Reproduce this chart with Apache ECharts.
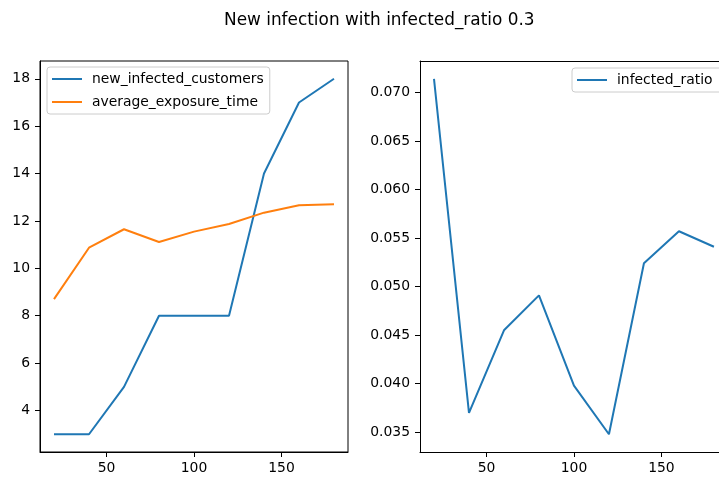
<!DOCTYPE html>
<html>
<head>
<meta charset="utf-8">
<title>New infection with infected_ratio 0.3</title>
<script src="https://cdn.jsdelivr.net/npm/echarts@6/dist/echarts.min.js"></script>
<style>
  html, body { margin: 0; padding: 0; background: #fff; }
  #chart { width: 719px; height: 478px; }
</style>
</head>
<body>
<div id="chart"></div>
<script>
// Simulation steps on the x axis
const steps = [20, 40, 60, 80, 100, 120, 140, 160, 180];
// Left panel series
const newInfectedCustomers = [3, 3, 5, 8, 8, 8, 14, 17, 18];
const averageExposureTime = [8.70, 10.87, 11.65, 11.11, 11.55, 11.87, 12.35, 12.66, 12.70];
// Right panel series
const infectedRatio = [0.0714, 0.0370, 0.0455, 0.0491, 0.0398, 0.0348, 0.0524, 0.0557, 0.0541];
// Tick labels
const xTicks = [50, 100, 150];
const leftYTicks = [4, 6, 8, 10, 12, 14, 16, 18];
const rightYTicks = [0.035, 0.040, 0.045, 0.050, 0.055, 0.060, 0.065, 0.070];

const FONT = 'DejaVu Sans';
const BLUE = '#1f77b4';
const ORANGE = '#ff7f0e';

const pairs = (ys) => steps.map((x, i) => [x, ys[i]]);

function xAxisFor(gridIndex, max) {
  return {
    type: 'value', gridIndex, min: 12, max,
    axisLine: { show: true, lineStyle: { color: '#000', width: 1 } },
    axisTick: { show: true, customValues: xTicks, length: 5, lineStyle: { color: '#000', width: 1 } },
    axisLabel: { customValues: xTicks, margin: 9, color: '#000', fontSize: 13.9, fontFamily: FONT },
    splitLine: { show: false }
  };
}

// Plain frame edge (top of the right panel, which runs off the page)
function frameEdge(gridIndex, max) {
  return {
    type: 'value', gridIndex, min: 12, max, position: 'top',
    axisLine: { show: true, lineStyle: { color: '#000', width: 1 } },
    axisTick: { show: false }, axisLabel: { show: false }, splitLine: { show: false }
  };
}

function yAxisFor(gridIndex, min, max, ticks, fmt) {
  return {
    type: 'value', gridIndex, min, max,
    axisLine: { show: true, lineStyle: { color: '#000', width: 1 } },
    axisTick: { show: true, customValues: ticks, length: 5, lineStyle: { color: '#000', width: 1 } },
    axisLabel: { customValues: ticks, margin: 10, color: '#000', fontSize: 13.9, fontFamily: FONT, formatter: fmt },
    splitLine: { show: false }
  };
}

const legendBase = {
  orient: 'vertical',
  icon: 'rect',
  itemWidth: 30,
  itemHeight: 2,
  itemGap: 9,
  padding: [5, 6, 5, 5],
  borderColor: '#cccccc',
  borderWidth: 1,
  borderRadius: 3,
  backgroundColor: 'rgba(255,255,255,0.8)',
  textStyle: { fontSize: 13.9, fontFamily: FONT, color: '#000', padding: [0, 0, 0, 5] }
};

const lineSeries = (name, data, color, idx) => ({
  name, type: 'line', data,
  xAxisIndex: idx, yAxisIndex: idx,
  symbol: 'none',
  lineStyle: { color, width: 2 },
  itemStyle: { color },
  emphasis: { disabled: true }
});

const chart = echarts.init(document.getElementById('chart'), null, { renderer: 'canvas' });
chart.setOption({
  animation: false,
  backgroundColor: '#fff',
  textStyle: { fontFamily: FONT },
  title: {
    text: 'New infection with infected_ratio 0.3',
    left: 219, top: 7,
    textStyle: { fontSize: 16.9, fontWeight: 'normal', color: '#000', fontFamily: FONT }
  },
  grid: [
    { left: 40, top: 61, width: 308, height: 391, show: true, borderColor: '#000', borderWidth: 1 },
    // right panel is wider than the page; only its visible part is laid out
    { left: 420, top: 61, width: 299, height: 391, show: false }
  ],
  xAxis: [xAxisFor(0, 188), xAxisFor(1, 182.9), frameEdge(1, 182.9)],
  yAxis: [
    yAxisFor(0, 2.25, 18.75, leftYTicks, (v) => String(Math.round(v))),
    yAxisFor(1, 0.03297, 0.07323, rightYTicks, (v) => v.toFixed(3))
  ],
  legend: [
    Object.assign({}, legendBase, { data: ['new_infected_customers', 'average_exposure_time'], left: 47, top: 67 }),
    Object.assign({}, legendBase, { data: ['infected_ratio'], left: 572, top: 68, padding: [5, 14, 5, 5] })
  ],
  series: [
    lineSeries('new_infected_customers', pairs(newInfectedCustomers), BLUE, 0),
    lineSeries('average_exposure_time', pairs(averageExposureTime), ORANGE, 0),
    lineSeries('infected_ratio', pairs(infectedRatio), BLUE, 1)
  ]
});
</script>
</body>
</html>
